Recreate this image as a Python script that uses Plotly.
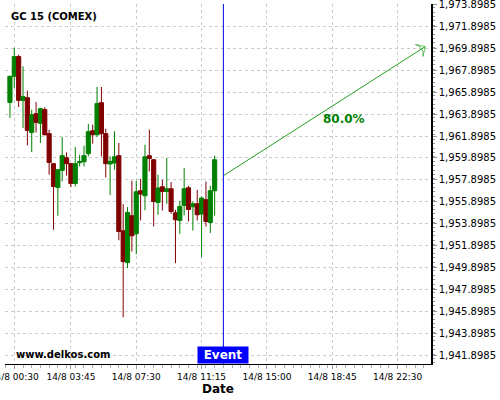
import plotly.graph_objects as go

times = ["2023-08-14 00:15", "2023-08-14 00:30", "2023-08-14 00:45", "2023-08-14 01:00",
         "2023-08-14 01:15", "2023-08-14 01:30", "2023-08-14 01:45", "2023-08-14 02:00",
         "2023-08-14 02:15", "2023-08-14 02:30", "2023-08-14 02:45", "2023-08-14 03:00",
         "2023-08-14 03:15", "2023-08-14 03:30", "2023-08-14 03:45", "2023-08-14 04:00",
         "2023-08-14 04:15", "2023-08-14 04:30", "2023-08-14 04:45", "2023-08-14 05:00",
         "2023-08-14 05:15", "2023-08-14 05:30", "2023-08-14 05:45", "2023-08-14 06:00",
         "2023-08-14 06:15", "2023-08-14 06:30", "2023-08-14 06:45", "2023-08-14 07:00",
         "2023-08-14 07:15", "2023-08-14 07:30", "2023-08-14 07:45", "2023-08-14 08:00",
         "2023-08-14 08:15", "2023-08-14 08:30", "2023-08-14 08:45", "2023-08-14 09:00",
         "2023-08-14 09:15", "2023-08-14 09:30", "2023-08-14 09:45", "2023-08-14 10:00",
         "2023-08-14 10:15", "2023-08-14 10:30", "2023-08-14 10:45", "2023-08-14 11:00",
         "2023-08-14 11:15", "2023-08-14 11:30", "2023-08-14 11:45", "2023-08-14 12:00"]

opens = [1964.97, 1967.35, 1969.15, 1965.16, 1965.40, 1962.23, 1963.94, 1963.06,
         1964.31, 1962.12, 1959.38, 1957.21, 1958.77, 1959.92, 1959.38, 1957.58,
         1959.47, 1959.56, 1960.29, 1962.39, 1962.02, 1964.95, 1962.12, 1959.35,
         1959.44, 1960.11, 1953.25, 1950.36, 1954.63, 1952.98, 1956.91, 1956.45,
         1960.11, 1959.74, 1955.84, 1957.27, 1956.85, 1957.09, 1954.90, 1954.20,
         1955.57, 1957.18, 1955.45, 1955.72, 1954.78, 1956.09, 1954.01, 1956.91]
highs = [1967.40, 1969.94, 1969.33, 1968.26, 1966.04, 1964.31, 1965.01, 1964.45,
         1964.52, 1962.48, 1959.45, 1958.90, 1961.82, 1960.41, 1959.45, 1960.90,
         1960.20, 1961.02, 1963.00, 1962.94, 1966.38, 1966.38, 1962.57, 1960.04,
         1962.34, 1961.27, 1955.69, 1955.42, 1957.82, 1957.82, 1957.98, 1961.11,
         1962.48, 1959.80, 1958.37, 1957.91, 1959.90, 1957.70, 1955.17, 1955.99,
         1958.98, 1957.35, 1955.93, 1957.00, 1956.40, 1957.76, 1957.37, 1960.11]
lows = [1963.55, 1966.29, 1964.55, 1962.64, 1961.05, 1960.44, 1962.23, 1961.27,
        1961.96, 1958.37, 1953.35, 1954.63, 1957.76, 1958.28, 1957.25, 1957.30,
        1959.13, 1959.13, 1960.04, 1961.20, 1961.82, 1960.04, 1958.12, 1956.50,
        1958.83, 1952.39, 1945.37, 1949.85, 1951.36, 1951.11, 1954.20, 1955.13,
        1958.67, 1953.65, 1954.72, 1955.11, 1955.72, 1954.81, 1950.30, 1952.98,
        1954.65, 1954.12, 1953.28, 1954.20, 1950.85, 1953.65, 1953.04, 1954.63]
closes = [1967.35, 1969.15, 1965.16, 1965.50, 1962.42, 1963.85, 1963.15, 1964.40,
          1962.02, 1959.49, 1957.30, 1958.83, 1960.11, 1959.38, 1957.58, 1959.38,
          1959.56, 1960.11, 1962.30, 1962.02, 1964.86, 1962.12, 1959.38, 1959.59,
          1960.01, 1953.19, 1950.45, 1954.93, 1952.80, 1956.82, 1956.61, 1960.01,
          1959.86, 1955.93, 1957.16, 1956.85, 1957.09, 1955.02, 1954.26, 1955.48,
          1957.09, 1955.20, 1955.72, 1954.72, 1956.24, 1954.10, 1956.91, 1959.74]

event_time = "2023-08-14 12:30"
arrow_times = ["2023-08-14 12:30", "2023-08-15 00:05"]
arrow_prices = [1958.28, 1970.06]
label_time = "2023-08-14 19:25"
label_price = 1963.46
label_text = "80.0%"

x_tickvals = ["2023-08-14 00:30", "2023-08-14 03:45", "2023-08-14 07:30", "2023-08-14 11:15",
              "2023-08-14 15:00", "2023-08-14 18:45", "2023-08-14 22:30"]
x_ticktext = ["14/8 00:30", "14/8 03:45", "14/8 07:30", "14/8 11:15",
              "14/8 15:00", "14/8 18:45", "14/8 22:30"]
y_tick0 = 1941.8985
y_dtick = 2
x_range = ["2023-08-13 23:58", "2023-08-15 00:25"]
y_range = [1941.10, 1973.95]

GREEN = "#008000"
RED = "#800000"
FONT = "DejaVu Sans"

fig = go.Figure()
fig.add_trace(go.Candlestick(
    x=times, open=opens, high=highs, low=lows, close=closes,
    increasing=dict(line=dict(color=GREEN, width=1), fillcolor=GREEN),
    decreasing=dict(line=dict(color=RED, width=1), fillcolor=RED),
    whiskerwidth=0, showlegend=False, hoverinfo="skip",
))

fig.add_trace(go.Scatter(
    x=arrow_times, y=arrow_prices, mode="lines+markers",
    line=dict(color="#22a022", width=1),
    marker=dict(symbol="arrow-wide-open", size=[0, 10], angleref="previous",
                color="#22a022", line=dict(color="#22a022", width=1)),
    showlegend=False, hoverinfo="skip",
))

fig.add_shape(type="line", xref="x", yref="paper", x0=event_time, x1=event_time,
              y0=0, y1=1, line=dict(color="#0000ee", width=1))

fig.add_annotation(x=label_time, y=label_price, text="<b>" + label_text + "</b>",
                   showarrow=False, font=dict(family=FONT, size=12, color=GREEN))
fig.add_annotation(x=event_time, y=0, xref="x", yref="paper", yanchor="bottom",
                   text="<b>Event</b>", showarrow=False, bgcolor="#0000ff",
                   width=48, height=14,
                   font=dict(family=FONT, size=12, color="white"), borderpad=1)
fig.add_annotation(x=0.02, y=0.005, xref="paper", yref="paper", xanchor="left", yanchor="bottom",
                   text="<b>www.delkos.com</b>", showarrow=False,
                   font=dict(family=FONT, size=10, color="black"))
fig.add_annotation(x=0.01, y=0.985, xref="paper", yref="paper", xanchor="left", yanchor="top",
                   text="<b>GC 15 (COMEX)</b>", showarrow=False,
                   font=dict(family=FONT, size=10, color="black"))

fig.update_layout(
    width=500, height=400,
    margin=dict(l=5, r=69, t=4, b=36, autoexpand=False),
    paper_bgcolor="white", plot_bgcolor="white",
    font=dict(family=FONT, color="black"),
    boxgap=0.05, boxgroupgap=0,
    xaxis=dict(
        type="date", range=x_range, rangeslider=dict(visible=False),
        automargin=False,
        tickvals=x_tickvals, ticktext=x_ticktext, tickfont=dict(size=9),
        ticklabeloverflow="allow",
        ticks="outside", ticklen=4, tickcolor="#999",
        minor=dict(dtick=30 * 60 * 1000, tick0="2023-08-14 00:30", ticklen=3,
                   tickcolor="#aaa", showgrid=False, ticks="outside"),
        showgrid=True, gridcolor="#cccccc", griddash="3px,3px", gridwidth=1,
        showline=True, linecolor="black", linewidth=1, zeroline=False,
        title=dict(text="<b>Date</b>", font=dict(size=12), standoff=2),
    ),
    yaxis=dict(
        side="right", range=y_range, tick0=y_tick0, dtick=y_dtick,
        automargin=False, ticklabeloverflow="allow",
        tickformat=",.4f", tickfont=dict(size=10),
        ticks="outside", ticklen=4, tickcolor="#999",
        minor=dict(dtick=0.4, ticklen=2, tickcolor="#999", showgrid=False, ticks="outside"),
        showgrid=True, gridcolor="#cccccc", griddash="3px,3px", gridwidth=1,
        showline=True, linecolor="black", linewidth=1.5, zeroline=False,
    ),
)

fig.write_html("out.html", config={"displayModeBar": False},
               post_script="document.body.style.margin='0';document.body.style.overflow='hidden';")
